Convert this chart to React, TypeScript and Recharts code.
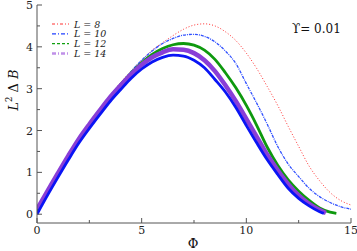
import React from 'react';
import { LineChart, Line, XAxis, YAxis } from 'recharts';

// Φ positions and L²ΔB values, one pair per system size
const phiL8 = [0, 1, 2, 3, 4, 5, 5.5, 6, 6.5, 7, 7.5, 8, 8.5, 9, 9.5, 10, 10.5, 11, 11.5, 12, 12.5, 13, 13.5, 14, 14.5, 15];
const valL8 = [0.05, 0.95, 1.8, 2.52, 3.15, 3.68, 3.92, 4.1, 4.27, 4.42, 4.52, 4.55, 4.5, 4.36, 4.15, 3.85, 3.48, 3.05, 2.6, 2.1, 1.62, 1.15, 0.8, 0.52, 0.33, 0.22];

const phiL10 = [0, 1, 2, 3, 4, 5, 5.5, 6, 6.5, 7, 7.5, 8, 8.5, 9, 9.5, 10, 10.5, 11, 11.5, 12, 12.5, 13, 13.5, 14, 14.5, 15];
const valL10 = [0.05, 0.95, 1.8, 2.5, 3.12, 3.68, 3.9, 4.08, 4.2, 4.28, 4.3, 4.25, 4.12, 3.9, 3.6, 3.12, 2.65, 2.15, 1.62, 1.2, 0.9, 0.62, 0.42, 0.28, 0.18, 0.12];

const phiL12 = [0, 1, 2, 3, 4, 5, 5.5, 6, 6.5, 7, 7.5, 8, 8.5, 9, 9.5, 10, 10.5, 11, 11.5, 12, 12.5, 13, 13.5, 14, 14.3];
const valL12 = [0.08, 0.95, 1.78, 2.48, 3.1, 3.62, 3.82, 3.96, 4.05, 4.08, 4.04, 3.92, 3.7, 3.38, 3.02, 2.6, 2.12, 1.6, 1.17, 0.82, 0.55, 0.33, 0.15, 0.05, 0.02];

const phiL14 = [0, 0.5, 1, 1.5, 2, 2.5, 3, 3.5, 4, 4.5, 5, 5.5, 6, 6.5, 7, 7.5, 8, 8.5, 9, 9.5, 10, 10.5, 11, 11.5, 12, 12.5, 13, 13.5, 13.8];
const valL14 = [0.12, 0.55, 0.98, 1.4, 1.8, 2.15, 2.48, 2.8, 3.08, 3.34, 3.57, 3.75, 3.87, 3.94, 3.93, 3.85, 3.68, 3.42, 3.08, 2.7, 2.28, 1.85, 1.42, 1.05, 0.72, 0.45, 0.25, 0.1, 0.03];

const phiLim = [0, 0.5, 1, 1.5, 2, 2.5, 3, 3.5, 4, 4.5, 5, 5.5, 6, 6.5, 7, 7.5, 8, 8.5, 9, 9.5, 10, 10.5, 11, 11.5, 12, 12.5, 13, 13.5, 13.7];
const valLim = [0, 0.45, 0.88, 1.3, 1.7, 2.05, 2.38, 2.7, 2.98, 3.25, 3.47, 3.64, 3.75, 3.8, 3.78, 3.68, 3.5, 3.22, 2.92, 2.55, 2.12, 1.7, 1.3, 0.95, 0.62, 0.38, 0.2, 0.06, 0.02];

const xTicks = [0, 2.5, 5, 7.5, 10, 12.5, 15];
const yTicks = [0, 0.5, 1, 1.5, 2, 2.5, 3, 3.5, 4, 4.5, 5];

const legendLabels = ['L = 8', 'L = 10', 'L = 12', 'L = 14'];

const toRows = (xs: number[], ys: number[]) => xs.map((x, i) => ({ phi: x, v: ys[i] }));

const FONT = "'DejaVu Serif', 'Liberation Serif', 'Noto Serif', serif";
const AXIS = '#555';
const txt = { fontFamily: FONT };

const BottomTick = (props: any) => {
  const { x, y, payload } = props;
  const v = payload.value;
  const major = v % 5 === 0;
  const axisY = y - 6;
  return (
    <g>
      <line x1={x} x2={x} y1={axisY} y2={axisY - (major ? 5 : 3)} stroke={AXIS} />
      {major && (
        <text x={x} y={axisY + 11} textAnchor="middle" fontSize={11} style={txt} fill="#222">
          {v}
        </text>
      )}
    </g>
  );
};

const TopTick = (props: any) => {
  const { x, y, payload } = props;
  const major = payload.value % 5 === 0;
  return <line x1={x} x2={x} y1={y} y2={y + (major ? 5 : 3)} stroke={AXIS} />;
};

const LeftTick = (props: any) => {
  const { x, y, payload } = props;
  const v = payload.value;
  const major = Number.isInteger(v);
  const axisX = x + 4;
  return (
    <g>
      <line x1={axisX} x2={axisX + (major ? 5 : 3)} y1={y} y2={y} stroke={AXIS} />
      {major && (
        <text x={x} y={y + 4} textAnchor="end" fontSize={11} style={txt} fill="#222">
          {v}
        </text>
      )}
    </g>
  );
};

const RightTick = (props: any) => {
  const { x, y, payload } = props;
  const major = Number.isInteger(payload.value);
  return <line x1={x} x2={x - (major ? 5 : 3)} y1={y} y2={y} stroke={AXIS} />;
};

const legendStyles = [
  { stroke: '#ff3030', width: 1, dash: '3 2 1 2' },
  { stroke: '#2040ff', width: 1.2, dash: '4 2 1 2' },
  { stroke: '#10a010', width: 1.3, dash: '3 2' },
  { stroke: '#c090e8', width: 2.5, dash: '4 2 1 2' },
];

const App: React.FC = () => {
  return (
    <div style={{ position: 'relative', width: 357, height: 251, background: '#fff' }}>
      <style>{`body { margin: 0; }`}</style>
      <LineChart width={357} height={251} margin={{ top: 5, right: 6, left: 0, bottom: 0 }}>
        <XAxis
          dataKey="phi"
          type="number"
          domain={[0, 15]}
          ticks={xTicks}
          interval={0}
          allowDataOverflow
          height={28}
          tickSize={0}
          tickMargin={6}
          tick={<BottomTick />}
          axisLine={{ stroke: AXIS }}
          tickLine={false}
        />
        <XAxis
          xAxisId="top"
          orientation="top"
          type="number"
          domain={[0, 15]}
          ticks={xTicks}
          interval={0}
          height={0}
          tickSize={0}
          tickMargin={0}
          tick={<TopTick />}
          axisLine={{ stroke: AXIS }}
          tickLine={false}
        />
        <YAxis
          type="number"
          domain={[-0.21, 5]}
          ticks={yTicks}
          interval={0}
          allowDataOverflow
          width={37}
          tickSize={0}
          tickMargin={4}
          tick={<LeftTick />}
          axisLine={{ stroke: AXIS }}
          tickLine={false}
        />
        <YAxis
          yAxisId="right"
          orientation="right"
          type="number"
          domain={[-0.21, 5]}
          ticks={yTicks}
          interval={0}
          width={0}
          tickSize={0}
          tickMargin={0}
          tick={<RightTick />}
          axisLine={{ stroke: AXIS }}
          tickLine={false}
        />
        <Line data={toRows(phiL8, valL8)} dataKey="v" type="monotone" stroke="#ff3030" strokeWidth={1} strokeDasharray="1 2" dot={false} isAnimationActive={false} />
        <Line data={toRows(phiL10, valL10)} dataKey="v" type="monotone" stroke="#3050ff" strokeWidth={1.3} strokeDasharray="3 1 1 1" dot={false} isAnimationActive={false} />
        <Line data={toRows(phiL12, valL12)} dataKey="v" type="monotone" stroke="#0e990e" strokeWidth={2.8} dot={false} isAnimationActive={false} />
        <Line data={toRows(phiL14, valL14)} dataKey="v" type="monotone" stroke="#8a3ed6" strokeWidth={4.5} dot={false} isAnimationActive={false} />
        <Line data={toRows(phiLim, valLim)} dataKey="v" type="monotone" stroke="#0a14f5" strokeWidth={2.8} dot={false} isAnimationActive={false} />
      </LineChart>
      <svg width={357} height={251} style={{ position: 'absolute', left: 0, top: 0, pointerEvents: 'none' }}>
        {legendLabels.map((label, i) => {
          const y = 24 + i * 9.8;
          const s = legendStyles[i];
          return (
            <g key={label}>
              <line x1={52} x2={69} y1={y} y2={y} stroke={s.stroke} strokeWidth={s.width} strokeDasharray={s.dash} />
              <text x={74} y={y + 3.5} fontSize={9.5} fontStyle="italic" style={txt} fill="#222">
                {label}
              </text>
            </g>
          );
        })}
        <text x={292} y={33} fontSize={12} style={txt} fill="#111">
          ϒ= 0.01
        </text>
        <text x={193} y={248} textAnchor="middle" fontSize={13} style={txt} fill="#111">
          Φ
        </text>
        <text transform="translate(18, 90) rotate(-90)" textAnchor="middle" fontSize={13} style={txt} fill="#111">
          <tspan fontStyle="italic">L</tspan>
          <tspan fontSize={8.5} dy={-6}>2</tspan>
          <tspan dy={6}> Δ </tspan>
          <tspan fontStyle="italic">B</tspan>
        </text>
      </svg>
    </div>
  );
};

export default App;
